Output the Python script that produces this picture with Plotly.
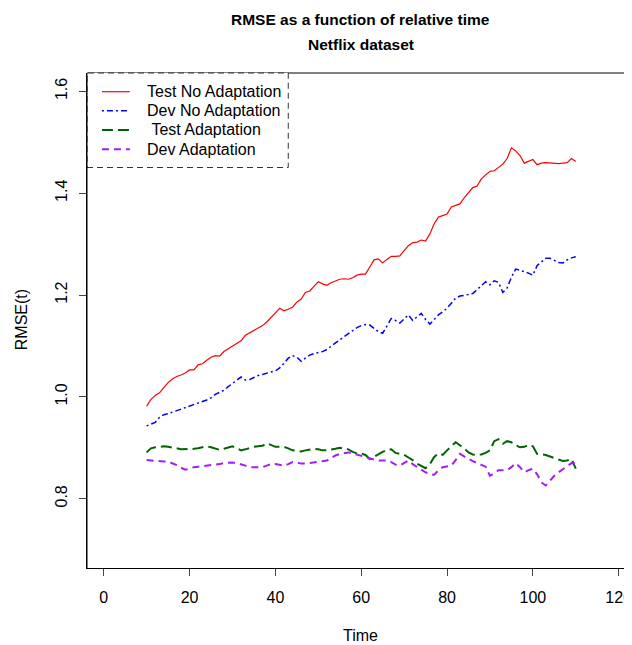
import plotly.graph_objects as go

time = list(range(10, 111))

test_no_adapt = [
    0.982, 0.995, 1.003, 1.008, 1.018, 1.028, 1.035, 1.040, 1.043, 1.047,
    1.053, 1.053, 1.063, 1.065, 1.072, 1.078, 1.081, 1.080, 1.089, 1.094,
    1.100, 1.104, 1.110, 1.121, 1.126, 1.130, 1.135, 1.140, 1.147, 1.155,
    1.165, 1.174, 1.169, 1.172, 1.176, 1.186, 1.192, 1.205, 1.208, 1.217,
    1.226, 1.222, 1.219, 1.224, 1.228, 1.231, 1.232, 1.231, 1.234, 1.239,
    1.241, 1.241, 1.255, 1.269, 1.271, 1.263, 1.270, 1.276, 1.276, 1.277,
    1.287, 1.297, 1.303, 1.304, 1.308, 1.306, 1.320, 1.340, 1.353, 1.356,
    1.359, 1.373, 1.376, 1.379, 1.391, 1.402, 1.411, 1.414, 1.428, 1.436,
    1.443, 1.444, 1.450, 1.457, 1.468, 1.489, 1.483, 1.474, 1.459, 1.462,
    1.466, 1.456, 1.459, 1.460, 1.459, 1.458, 1.458, 1.459, 1.460, 1.468,
    1.462,
]

dev_no_adapt = [
    0.943, 0.946, 0.950, 0.960, 0.965, 0.967, 0.970, 0.973, 0.976, 0.978,
    0.981, 0.985, 0.988, 0.991, 0.994, 0.998, 1.005, 1.009, 1.013, 1.020,
    1.026, 1.032, 1.039, 1.033, 1.034, 1.038, 1.042, 1.044, 1.047, 1.049,
    1.051, 1.057, 1.066, 1.076, 1.081, 1.078, 1.070, 1.076, 1.082, 1.085,
    1.087, 1.089, 1.093, 1.100, 1.106, 1.112, 1.118, 1.124, 1.130, 1.136,
    1.140, 1.142, 1.141, 1.134, 1.128, 1.125, 1.140, 1.154, 1.150, 1.145,
    1.153, 1.161, 1.150, 1.158, 1.164, 1.152, 1.143, 1.152, 1.161, 1.167,
    1.174, 1.184, 1.194, 1.198, 1.199, 1.201, 1.203, 1.211, 1.219, 1.226,
    1.220, 1.228, 1.225, 1.205, 1.214, 1.235, 1.251, 1.249, 1.246, 1.243,
    1.239, 1.258, 1.265, 1.272, 1.272, 1.268, 1.264, 1.263, 1.269, 1.273,
    1.275,
]

test_adapt = [
    0.891, 0.899, 0.901, 0.902, 0.903, 0.902, 0.901, 0.899, 0.897, 0.897,
    0.897, 0.898, 0.899, 0.901, 0.903, 0.901, 0.898, 0.896, 0.898, 0.901,
    0.903, 0.899, 0.895, 0.897, 0.900, 0.902, 0.903, 0.904, 0.909, 0.905,
    0.902, 0.902, 0.902, 0.899, 0.895, 0.894, 0.893, 0.895, 0.897, 0.898,
    0.897, 0.895, 0.895, 0.896, 0.898, 0.900, 0.899, 0.897, 0.892, 0.889,
    0.889, 0.886, 0.878, 0.883, 0.888, 0.892, 0.896, 0.897, 0.890, 0.888,
    0.886, 0.881, 0.876, 0.869, 0.864, 0.860, 0.868, 0.882, 0.889, 0.886,
    0.895, 0.903, 0.911, 0.905, 0.899, 0.891, 0.887, 0.886, 0.887, 0.890,
    0.895, 0.913, 0.917, 0.908, 0.913, 0.911, 0.905, 0.901, 0.902, 0.906,
    0.903, 0.888, 0.887, 0.886, 0.883, 0.880, 0.877, 0.874, 0.875, 0.878,
    0.859,
]

dev_adapt = [
    0.876, 0.875, 0.874, 0.874, 0.873, 0.873, 0.870, 0.866, 0.861, 0.857,
    0.859, 0.862, 0.863, 0.864, 0.864, 0.865, 0.866, 0.868, 0.870, 0.871,
    0.871, 0.870, 0.868, 0.865, 0.862, 0.862, 0.862, 0.862, 0.865, 0.868,
    0.868, 0.866, 0.865, 0.868, 0.872, 0.871, 0.869, 0.869, 0.870, 0.871,
    0.872, 0.873, 0.875, 0.880, 0.885, 0.888, 0.890, 0.891, 0.889, 0.887,
    0.885, 0.882, 0.879, 0.877, 0.875, 0.875, 0.875, 0.872, 0.867, 0.865,
    0.870, 0.875, 0.868, 0.862, 0.857, 0.852, 0.848, 0.847, 0.856, 0.862,
    0.863, 0.865, 0.876, 0.888, 0.883, 0.878, 0.874, 0.870, 0.866, 0.863,
    0.845, 0.850, 0.856, 0.856, 0.856, 0.862, 0.870, 0.862, 0.852, 0.856,
    0.859, 0.848, 0.832, 0.826, 0.836, 0.845, 0.852, 0.858, 0.865, 0.870,
    0.869,
]

series_names = ["Test No Adaptation", "Dev No Adaptation", "\u00a0Test Adaptation", "Dev Adaptation"]
series_values = [test_no_adapt, dev_no_adapt, test_adapt, dev_adapt]
series_colors = ["#FF0000", "#0000FF", "#006400", "#A020F0"]
series_widths = [1.2, 1.5, 2, 2]
series_dash = ["solid", "2px,3px,6px,3px", "11px,5px", "7px,5px"]

x_ticks = [0, 20, 40, 60, 80, 100, 120]
y_ticks = [0.8, 1.0, 1.2, 1.4, 1.6]
y_tick_labels = ["0.8", "1.0", "1.2", "1.4", "1.6"]

FONT = "Liberation Sans, Arial, Helvetica, sans-serif"
OFF = 8  # page body margin
W, H = 632 - OFF, 645 - OFF
L = 87 - OFF
T = 73 - OFF
B = H - (568 - OFF)
R = 0
PW, PH = W - L - R, H - T - B


def px(xs):
    return (xs - OFF - L) / PW


def py(ys):
    return (H - B - (ys - OFF)) / PH


fig = go.Figure()
for name, vals, col, w, d in zip(series_names, series_values, series_colors, series_widths, series_dash):
    fig.add_trace(go.Scatter(x=time, y=vals, mode="lines", name=name,
                             line=dict(color=col, width=w, dash=d), showlegend=False))

shapes = []
annotations = []

# top box line
shapes.append(dict(type="line", xref="paper", yref="paper", x0=0, x1=1, y0=1, y1=1,
                   line=dict(color="black", width=1), layer="above"))
# legend box
lx1 = px(289)
ly0 = py(167.5)
shapes.append(dict(type="rect", xref="paper", yref="paper", x0=0, x1=lx1, y0=ly0, y1=1,
                   fillcolor="white", line=dict(color="#333333", width=1, dash="6px,4px"),
                   layer="above"))
rows = [91.7, 110.7, 130, 149.3]
for name, col, w, d, ry in zip(series_names, series_colors, series_widths, series_dash, rows):
    shapes.append(dict(type="line", xref="paper", yref="paper", x0=px(102), x1=px(130),
                       y0=py(ry), y1=py(ry), line=dict(color=col, width=w, dash=d), layer="above"))
    annotations.append(dict(text=name, xref="paper", yref="paper", x=px(145.5), y=py(ry),
                            xanchor="left", yanchor="middle", showarrow=False,
                            font=dict(family=FONT, size=16, color="black")))

# left axis line redrawn over legend
shapes.append(dict(type="line", xref="paper", yref="paper", x0=0, x1=0, y0=0, y1=1,
                   line=dict(color="black", width=1), layer="above"))

# titles
annotations.append(dict(text="<b>RMSE as a function of relative time</b>", xref="paper", yref="paper",
                        x=px(362), y=py(20), xanchor="center", yanchor="middle", showarrow=False,
                        font=dict(family=FONT, size=15.5, color="black")))
annotations.append(dict(text="<b>Netflix dataset</b>", xref="paper", yref="paper",
                        x=px(362), y=py(44), xanchor="center", yanchor="middle", showarrow=False,
                        font=dict(family=FONT, size=15.5, color="black")))
annotations.append(dict(text="Time", xref="paper", yref="paper",
                        x=px(362), y=py(635), xanchor="center", yanchor="middle", showarrow=False,
                        font=dict(family=FONT, size=16, color="black")))
annotations.append(dict(text="RMSE(t)", xref="paper", yref="paper", textangle=-90,
                        x=px(21), y=py(320), xanchor="center", yanchor="middle", showarrow=False,
                        font=dict(family=FONT, size=16, color="black")))

x_left = -3.9
x_right = x_left + PW / 4.307
fig.update_layout(
    width=W, height=H,
    margin=dict(l=L, r=R, t=T, b=B, pad=0),
    plot_bgcolor="white", paper_bgcolor="white",
    font=dict(family=FONT, size=16, color="black"),
    shapes=shapes, annotations=annotations,
    showlegend=False,
    xaxis=dict(range=[x_left, x_right], tickvals=x_ticks, ticks="outside", ticklen=7,
               tickcolor="#444444", showline=True, linecolor="black", linewidth=1,
               showgrid=False, zeroline=False, mirror=False, ticklabelstandoff=8,
               ticklabeloverflow="allow",
               tickfont=dict(family=FONT, size=16, color="black")),
    yaxis=dict(range=[0.664, 1.636], tickvals=y_ticks, ticktext=y_tick_labels,
               ticks="outside", ticklen=7, tickcolor="#444444", showline=True,
               linecolor="black", linewidth=1, showgrid=False, zeroline=False,
               tickangle=-90, ticklabelstandoff=6,
               tickfont=dict(family=FONT, size=16, color="black")),
)

fig.write_html("out.html")
